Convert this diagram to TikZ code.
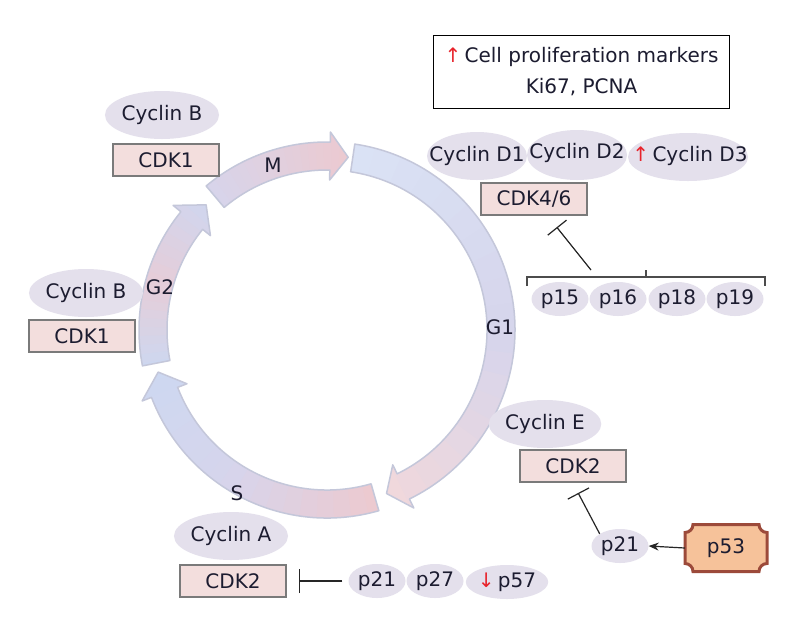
\documentclass[tikz,border=0pt]{standalone}
\usepackage{fontspec}
\setmainfont{DejaVu Sans}
\usetikzlibrary{shapes.geometric,arrows.meta,calc}

\definecolor{txt}{HTML}{1C1C30}
\definecolor{ellfill}{HTML}{E4E0EC}
\definecolor{cdkfill}{HTML}{F3DEDD}
\definecolor{cdkdraw}{HTML}{7A7A7A}
\definecolor{ringdraw}{HTML}{C4C7DA}
\definecolor{upred}{HTML}{E8232B}
\definecolor{pfill}{HTML}{F6C29A}
\definecolor{pdraw}{HTML}{9C4A3A}
\definecolor{rblue}{HTML}{CCD8F1}
\definecolor{rlblue}{HTML}{DAE3F5}
\definecolor{rlav}{HTML}{D6D5EC}
\definecolor{rpink}{HTML}{EDC9CF}
\definecolor{rlpink}{HTML}{F1D8DB}

% #1 tail angle, #2 head base angle, #3 tip angle, #4 mid angle, #5 tail colour, #6 mid colour, #7 tip colour
\newcommand\ringarrow[7]{%
  \begin{scope}
    \clip ($(C)+(#1:188)$) arc[start angle=#1, end angle=#2, radius=188]
      -- ($(C)+(#2:198)$) -- ($(C)+(#3:174)$) -- ($(C)+(#2:150)$)
      -- ($(C)+(#2:160)$) arc[start angle=#2, end angle=#1, radius=160] -- cycle;
    \foreach \k in {0,...,9}{
      \pgfmathsetmacro\aa{#1+2+(#4-#1-2)*\k/10}
      \pgfmathsetmacro\bb{#1+2+(#4-#1-2)*(\k+1.3)/10}
      \pgfmathtruncatemacro\pp{\k*10+5}
      \colorlet{segc}{#6!\pp!#5}
      \fill[segc] (C) -- ($(C)+(\aa:230)$) arc[start angle=\aa, end angle=\bb, radius=230] -- cycle;
    }
    \foreach \k in {0,...,9}{
      \pgfmathsetmacro\aa{#4+(#3-2-#4)*\k/10}
      \pgfmathsetmacro\bb{#4+(#3-2-#4)*(\k+1.3)/10}
      \pgfmathtruncatemacro\pp{\k*10+5}
      \colorlet{segc}{#7!\pp!#6}
      \fill[segc] (C) -- ($(C)+(\aa:230)$) arc[start angle=\aa, end angle=\bb, radius=230] -- cycle;
    }
  \end{scope}
  \draw[ringline] ($(C)+(#1:188)$) arc[start angle=#1, end angle=#2, radius=188]
      -- ($(C)+(#2:198)$) -- ($(C)+(#3:174)$) -- ($(C)+(#2:150)$)
      -- ($(C)+(#2:160)$) arc[start angle=#2, end angle=#1, radius=160] -- cycle;
}

\begin{document}
\begin{tikzpicture}[x=1pt, y=1pt,
  every node/.style={text=txt, font=\fontsize{20}{23}\selectfont},
  ringline/.style={draw=ringdraw, line width=1.5pt, line join=round},
  ell/.style={ellipse, fill=ellfill, inner sep=0pt, minimum width=100pt, minimum height=48pt},
  ellbare/.style={ellipse, inner sep=0pt, minimum width=100pt, minimum height=48pt},
  pell/.style={ellipse, fill=ellfill, inner sep=0pt, minimum width=57pt, minimum height=34pt},
  cdk/.style={rectangle, fill=cdkfill, draw=cdkdraw, line width=2.5pt, minimum width=106pt, minimum height=32pt, inner sep=0pt},
  inhib/.style={-{Bar[width=24pt]}, line width=1.2pt, draw=black!85},
  brk/.style={line width=1.2pt, draw=black!70},
  p53box/.style={fill=pfill, draw=pdraw, line width=3pt}
]
\useasboundingbox (0,0) rectangle (800,-630);
\fill[white] (0,0) rectangle (800,-630);
\coordinate (C) at (327,-330);

% cell-cycle ring
\ringarrow{130}{89}{83}{106}{rlav}{rlav!50!rpink}{rpink}
\ringarrow{81.5}{-64}{-70}{0}{rlblue}{rlav}{rlpink}
\ringarrow{-74}{-159}{-166}{-125}{rpink}{rlav}{rblue}
\ringarrow{191}{141}{134}{165}{rblue}{rpink!70!rlav}{rblue}

% phase labels
\node (lM) at (273,-165) {M};
\node (lG1) at (500,-327) {G1};
\node (lS) at (237,-493) {S};
\node (lG2) at (160,-287) {G2};

% markers box
\node[draw=black, line width=1.2pt, minimum width=296pt, minimum height=73pt, align=center,
      font=\fontsize{20}{31}\selectfont] (markers) at (581.5,-72)
  {\textcolor{upred}{↑}\,Cell proliferation markers\\Ki67, PCNA};

% M / G2 complexes
\node[ell] (cycBt) at (162,-115) {Cyclin B};
\node[cdk] (cdk1t) at (166,-160) {CDK1};
\node[ell] (cycBl) at (86,-293) {Cyclin B};
\node[cdk] (cdk1l) at (82,-336) {CDK1};

% G1 complexes (overlapping ellipses: fills first, texts after)
\fill[ellfill] (477,-156) ellipse[x radius=50, y radius=24];
\fill[ellfill] (577,-155) ellipse[x radius=50, y radius=25];
\fill[ellfill] (688,-157) ellipse[x radius=60, y radius=24];
\node[ellbare] (cycD1) at (477,-156) {Cyclin D1};
\node[ellbare] (cycD2) at (577,-153) {Cyclin D2};
\node[ellbare, minimum width=120pt] (cycD3) at (690,-156) {\textcolor{upred}{↑}\,Cyclin D3};
\node[cdk] (cdk46) at (534,-199) {CDK4/6};

\node[pell] (p15) at (560,-299) {p15};
\node[pell] (p16) at (618,-299) {p16};
\node[pell] (p18) at (677,-299) {p18};
\node[pell] (p19) at (735,-299) {p19};
\draw[brk] (527,-286) -- (527,-277) -- (765,-277) -- (765,-286);
\draw[brk] (646,-277) -- (646,-270);
\coordinate (brkL) at (591,-270);
\draw[inhib, shorten >=14pt] (brkL) -- ($(cdk46.south)+(14,0)$);

% G1/S complex
\node[ell] (cycE) at (545,-424) {Cyclin E};
\node[cdk] (cdk2e) at (573,-466) {CDK2};
\node[pell] (p21e) at (620,-546) {p21};
\draw[inhib, shorten >=11pt] (p21e.north west) -- (cdk2e.south);

\coordinate (p53c) at (726,-548);
\draw[p53box] ($(p53c)+(-33,23.5)$) -- ($(p53c)+(33,23.5)$)
  arc[start angle=180, end angle=270, radius=8] -- ($(p53c)+(41,-15.5)$)
  arc[start angle=90, end angle=180, radius=8] -- ($(p53c)+(-33,-23.5)$)
  arc[start angle=0, end angle=90, radius=8] -- ($(p53c)+(-41,15.5)$)
  arc[start angle=270, end angle=360, radius=8] -- cycle;
\node[minimum width=82pt, minimum height=47pt, inner sep=0pt] (p53) at (p53c) {p53};
\draw[-{Stealth[length=10pt,width=8pt]}, line width=1.2pt, draw=black!85] (p53.west) -- (p21e.east);

% S complex
\node[ell] (cycA) at (231,-536) {Cyclin A};
\node[cdk] (cdk2a) at (233,-581) {CDK2};
\node[pell] (p21a) at (377,-581) {p21};
\node[pell] (p27) at (435,-581) {p27};
\node[pell, minimum width=81pt] (p57) at (507,-582) {\textcolor{upred}{↓}\,p57};
\draw[inhib, shorten <=6pt, shorten >=12pt] (p21a.west) -- (cdk2a.east);
\end{tikzpicture}
\end{document}
